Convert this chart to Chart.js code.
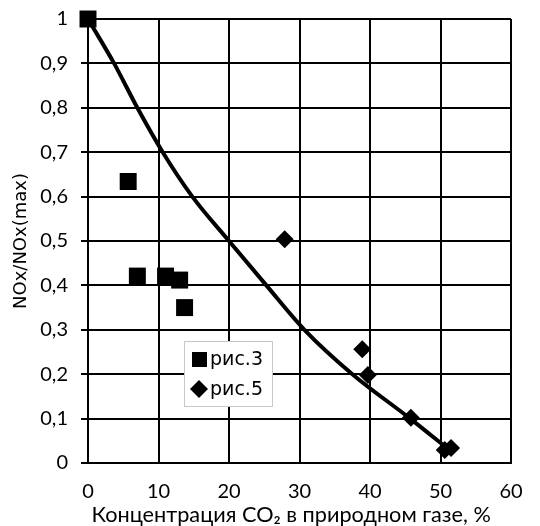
<!DOCTYPE html>
<html>
<head>
<meta charset="utf-8">
<script src="https://cdn.jsdelivr.net/npm/chart.js@4/dist/chart.umd.min.js"></script>
<style>
  html, body { margin: 0; padding: 0; background: #fff; }
  canvas { display: block; }
</style>
</head>
<body>
<canvas id="nox" width="540" height="526"></canvas>
<script>
// points
const fig3X = [0, 5.7, 7.0, 11.0, 13.0, 13.7]
const fig3Y = [1, 0.634, 0.421, 0.421, 0.412, 0.350]
const fig5X = [27.9, 38.9, 39.7, 45.8, 50.6, 51.5]
const fig5Y = [0.504, 0.256, 0.198, 0.102, 0.029, 0.034]
// trend curve
const curveX = [0, 3.7, 7.0, 10.6, 14.8, 20, 25.3, 30.7, 37.5, 45.7, 51.2]
const curveY = [1, 0.9, 0.8, 0.7, 0.6, 0.5, 0.4, 0.3, 0.2, 0.1, 0.03]

const seriesLabels = ['рис.3', 'рис.5']
const xTitle = 'Концентрация CO₂ в природном газе, %'
const yTitle = 'NOx/NOx(max)'

const toPoints = (xs, ys) => xs.map((x, i) => ({ x: x, y: ys[i] }))

// legend box drawn inside the plot, like the original
const boxLegend = {
  id: 'boxLegend',
  afterDraw(chart) {
    const ctx = chart.ctx
    const left = 184, top = 341, w = 88, h = 65
    ctx.save()
    ctx.fillStyle = '#fff'
    ctx.fillRect(left, top, w, h)
    ctx.strokeStyle = '#c8c8c8'
    ctx.lineWidth = 1
    ctx.strokeRect(left + 0.5, top + 0.5, w, h)
    ctx.fillStyle = '#000'
    ctx.font = '19px "DejaVu Sans"'
    ctx.textBaseline = 'middle'
    ctx.textAlign = 'left'
    // square
    ctx.fillRect(192, 352, 15, 15)
    ctx.fillText(seriesLabels[0], 210, 360)
    // diamond
    ctx.beginPath()
    ctx.moveTo(199, 380)
    ctx.lineTo(208, 389)
    ctx.lineTo(199, 398)
    ctx.lineTo(190, 389)
    ctx.closePath()
    ctx.fill()
    ctx.fillText(seriesLabels[1], 210, 390)
    ctx.restore()
  }
}

new Chart('nox', {
  type: 'scatter',
  data: {
    datasets: [
      {
        label: 'curve',
        data: toPoints(curveX, curveY),
        showLine: true,
        borderColor: '#000',
        borderWidth: 4,
        pointRadius: 0,
        cubicInterpolationMode: 'monotone',
        clip: false,
        order: 2
      },
      {
        label: seriesLabels[0],
        data: toPoints(fig3X, fig3Y),
        pointStyle: 'rect',
        pointRadius: 12,
        backgroundColor: '#000',
        borderColor: '#000',
        borderWidth: 0,
        clip: false,
        order: 1
      },
      {
        label: seriesLabels[1],
        data: toPoints(fig5X, fig5Y),
        pointStyle: 'rectRot',
        pointRadius: 9,
        backgroundColor: '#000',
        borderColor: '#000',
        borderWidth: 0,
        clip: false,
        order: 1
      }
    ]
  },
  options: {
    responsive: false,
    animation: false,
    devicePixelRatio: 1,
    layout: { padding: { top: 19, right: 29, left: 0, bottom: 0 } },
    plugins: {
      legend: { display: false },
      tooltip: { enabled: false }
    },
    scales: {
      x: {
        min: 0,
        max: 60,
        ticks: {
          stepSize: 10,
          autoSkip: false,
          maxRotation: 0,
          color: '#000',
          padding: 17,
          font: { family: 'Lato', size: 20 }
        },
        grid: { color: '#000', lineWidth: 2, drawTicks: false },
        border: { color: '#000', width: 2 },
        title: {
          display: true,
          // trailing spaces nudge the centred title a little to the left
          text: xTitle + '\u00a0\u00a0\u00a0',
          color: '#000',
          font: { family: 'Lato', size: 21.7, lineHeight: 1 },
          padding: { top: 0, bottom: 0 }
        },
        afterFit: (scale) => {
          scale.height = 63
          scale.paddingRight = 0
        }
      },
      y: {
        min: 0,
        max: 1,
        ticks: {
          stepSize: 0.1,
          autoSkip: false,
          color: '#000',
          padding: 13,
          font: { family: 'Lato', size: 20 },
          callback: (v) => String(Math.round(v * 10) / 10).replace('.', ',')
        },
        grid: { color: '#000', lineWidth: 2, tickLength: 7 },
        border: { color: '#000', width: 2 },
        title: {
          display: true,
          text: yTitle,
          color: '#000',
          font: { family: 'DejaVu Sans', size: 18 },
          padding: { top: 11, bottom: 0 }
        },
        afterFit: (scale) => {
          scale.width = 88
          scale.paddingTop = 0
          scale.paddingBottom = 0
        }
      }
    }
  },
  plugins: [boxLegend]
})
</script>
</body>
</html>
